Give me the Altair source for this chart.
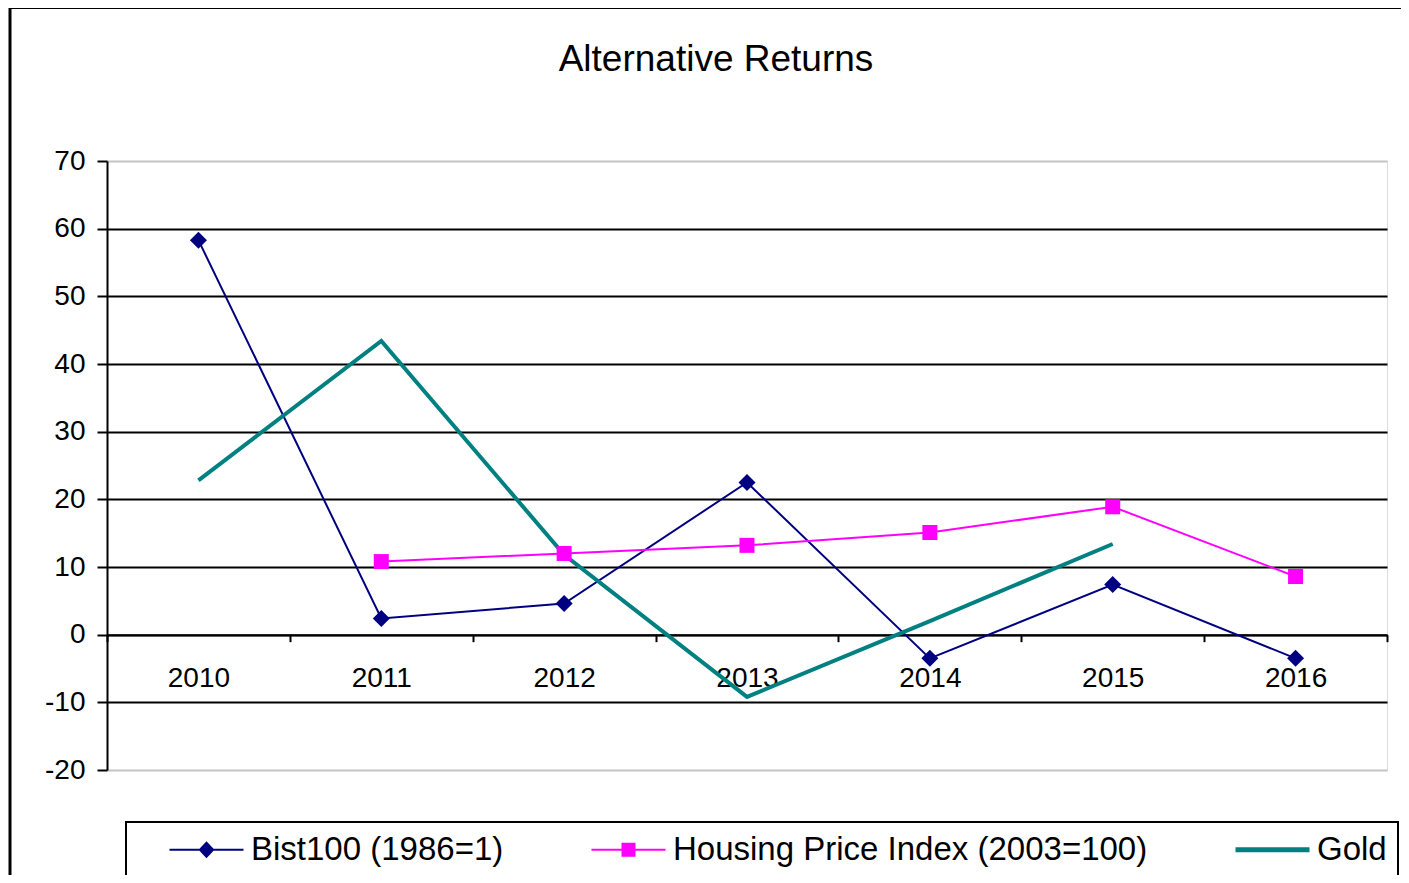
import altair as alt
import pandas as pd

# ---- data ----
years = ["2010", "2011", "2012", "2013", "2014", "2015", "2016"]
bist100 = [58.3, 2.4, 4.6, 22.5, -3.5, 7.4, -3.5]
housing = [None, 10.8, 12.0, 13.2, 15.1, 18.9, 8.6]
gold = [22.8, 43.4, 11.8, -9.2, 2.0, 13.4, None]

series_names = ["Bist100 (1986=1)", "Housing Price Index (2003=100)", "Gold"]
series_colors = ["#000080", "#FF00FF", "#008080"]
y_ticks = [-20, -10, 0, 10, 20, 30, 40, 50, 60, 70]

rows = []
for name, vals in zip(series_names, [bist100, housing, gold]):
    for yr, v in zip(years, vals):
        if v is not None:
            rows.append({"year": yr, "series": name, "value": v})
df = pd.DataFrame(rows)

FONT = "Liberation Sans, Arial, sans-serif"
W, H = 1280, 609
YMIN, YMAX = -20, 70
zero_offset = -H * (0 - YMIN) / (YMAX - YMIN)  # move category axis up to y=0

x_enc = alt.X(
    "year:N",
    sort=years,
    scale=alt.Scale(type="band", domain=years, paddingInner=0, paddingOuter=0),
    axis=alt.Axis(
        title=None, orient="bottom", offset=zero_offset, tickBand="extent",
        tickSize=7, tickWidth=2, tickColor="black", domainColor="black",
        domainWidth=2, labelFontSize=28, labelFont=FONT, labelColor="black",
        labelPadding=23, labelAngle=0, grid=False,
    ),
)
y_enc = alt.Y(
    "value:Q",
    scale=alt.Scale(domain=[YMIN, YMAX], nice=False, zero=False),
    axis=alt.Axis(
        title=None, values=y_ticks, labelExpr="datum.value + ''",
        tickSize=10, tickWidth=2, tickColor="black",
        domainColor="black", domainWidth=2, labelFontSize=28, labelFont=FONT,
        labelColor="black", labelPadding=12, grid=True,
        gridColor=alt.condition("datum.value == 70 || datum.value == -20",
                                alt.value("#c4c4c4"), alt.value("black")),
        gridWidth=2, gridOpacity=1,
    ),
)

base = alt.Chart(df).encode(x=x_enc, y=y_enc)

frame = alt.Chart(pd.DataFrame({"k": [0]})).mark_rect(
    filled=False, stroke="black", strokeWidth=3
).encode(x=alt.value(-97), y=alt.value(-153.5), x2=alt.value(1500), y2=alt.value(900))

line_bist = base.transform_filter(alt.datum.series == series_names[0]).mark_line(
    color=series_colors[0], strokeWidth=2)
line_house = base.transform_filter(alt.datum.series == series_names[1]).mark_line(
    color=series_colors[1], strokeWidth=2)
line_gold = base.transform_filter(alt.datum.series == series_names[2]).mark_line(
    color=series_colors[2], strokeWidth=4)
pts_bist = base.transform_filter(alt.datum.series == series_names[0]).mark_point(
    shape="diamond", filled=True, size=289, color=series_colors[0], opacity=1)
pts_house = base.transform_filter(alt.datum.series == series_names[1]).mark_point(
    shape="square", filled=True, size=225, color=series_colors[1], opacity=1)

# legend symbols: line + marker drawn as custom paths
legend_paths = [
    "M-3.933,-0.067H1V0.067H-3.933Z M-1.467,-0.567L-0.933,0L-1.467,0.567L-2,0Z",
    "M-3.933,-0.067H1V0.067H-3.933Z M-1.933,-0.467H-1V0.467H-1.933Z",
    "M-3.933,-0.167H1V0.167H-3.933Z",
]
leg = alt.Legend(
    title=" ", orient="none", legendX=19, legendY=661, direction="horizontal",
    symbolSize=900, symbolStrokeWidth=0, symbolOpacity=1,
    labelFontSize=33, labelFont=FONT, labelColor="black", labelOffset=6,
    labelLimit=0, columnPadding=87, padding=11, strokeColor="black",
    fillColor="white", titleOrient="left", titleFontSize=1,
    titlePadding=75,
)
legend_layer = alt.Chart(df).transform_filter("datum.value > 1000").mark_point(
    filled=True, opacity=1, size=900
).encode(
    color=alt.Color("series:N", scale=alt.Scale(domain=series_names, range=series_colors), legend=leg),
    shape=alt.Shape("series:N", scale=alt.Scale(domain=series_names, range=legend_paths), legend=leg),
)

chart = alt.layer(
    frame, line_bist, line_house, line_gold, pts_bist, pts_house, legend_layer
).properties(
    width=W, height=H,
    autosize=alt.AutoSizeParams(type="none"),
    padding={"left": 99, "top": 153, "right": 14, "bottom": 105},
    title=alt.Title("Alternative Returns", fontSize=37, font=FONT, fontWeight="normal",
                    color="black", anchor="middle", dx=-31, offset=-102,
                    baseline="alphabetic"),
).configure_view(stroke=None).configure(background="white").configure_legend(strokeWidth=2)

chart.save("out.html", embed_options={"renderer": "svg", "actions": False})
